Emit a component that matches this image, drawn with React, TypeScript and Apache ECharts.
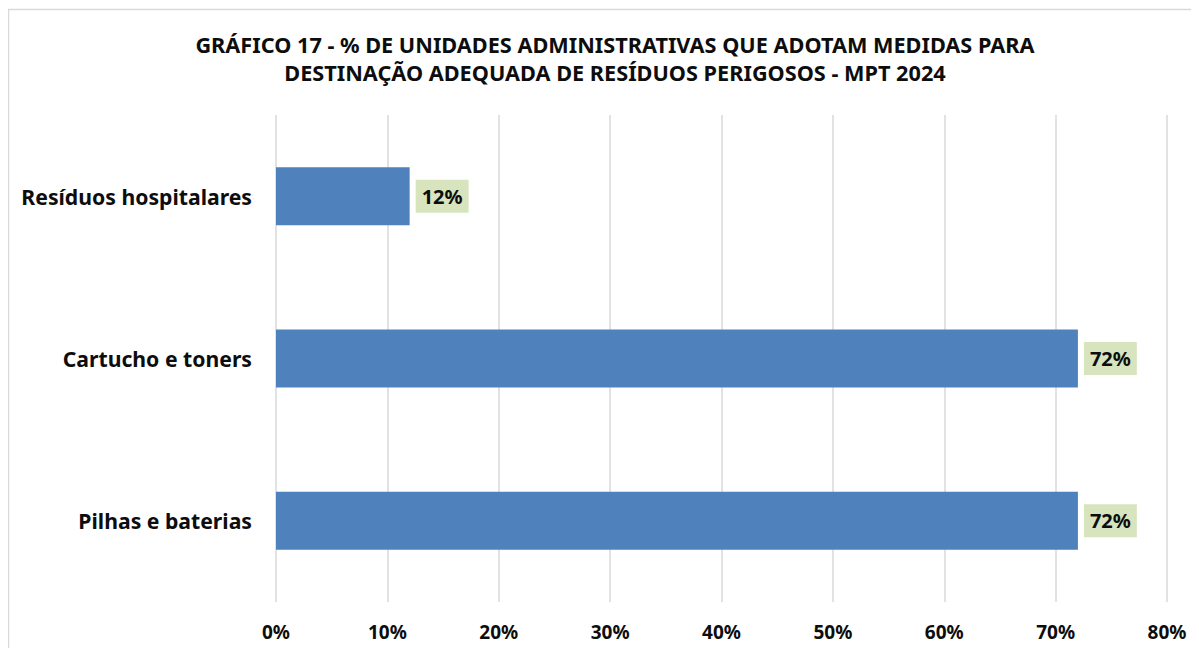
import React, { useEffect, useRef } from "react";
import * as echarts from "echarts";

const titleLines = [
  "GRÁFICO 17 - % DE UNIDADES ADMINISTRATIVAS QUE ADOTAM MEDIDAS PARA",
  "DESTINAÇÃO ADEQUADA DE RESÍDUOS PERIGOSOS - MPT 2024",
];
const categories = ["Resíduos hospitalares", "Cartucho e toners", "Pilhas e baterias"];
const values = [12, 72, 72];
const FONT = "Noto Sans";

export default function App() {
  const ref = useRef<HTMLDivElement>(null);
  useEffect(() => {
    if (!ref.current) return;
    const chart = echarts.init(ref.current, null, { renderer: "svg" });
    chart.setOption({
      animation: false,
      backgroundColor: "#ffffff",
      title: {
        text: titleLines.join("\n"),
        left: 602,
        top: 17,
        textAlign: "center",
        textStyle: {
          fontFamily: FONT,
          fontSize: 21.7,
          fontWeight: "bold",
          color: "#0d0d0d",
          lineHeight: 28,
        },
      },
      graphic: [
        {
          type: "rect",
          shape: { x: 0.5, y: 1.5, width: 1300, height: 800 },
          style: { fill: "none", stroke: "#d9d9d9", lineWidth: 1.5 },
          silent: true,
          z: -1,
        },
      ],
      grid: { left: 268, right: 32, top: 107, bottom: 46, containLabel: false },
      xAxis: {
        type: "value",
        min: 0,
        max: 80,
        interval: 10,
        axisLine: { show: false },
        axisTick: { show: false },
        splitLine: { show: true, lineStyle: { color: "#d9d9d9", width: 1.5 } },
        axisLabel: {
          formatter: "{value}%",
          fontFamily: FONT,
          fontSize: 19,
          fontWeight: "bold",
          color: "#0d0d0d",
          margin: 20,
        },
      },
      yAxis: {
        type: "category",
        data: categories,
        inverse: true,
        axisLine: { show: false },
        axisTick: { show: false },
        axisLabel: {
          fontFamily: FONT,
          fontSize: 21.2,
          fontWeight: "bold",
          color: "#0d0d0d",
          margin: 24,
        },
      },
      series: [
        {
          type: "bar",
          data: values,
          barWidth: 58,
          itemStyle: { color: "#4f81bd" },
          label: {
            show: true,
            position: "right",
            distance: 6,
            formatter: "{c}%",
            fontFamily: FONT,
            fontSize: 20,
            fontWeight: "bold",
            color: "#0d0d0d",
            backgroundColor: "#d7e4bd",
            padding: [7, 6, 6, 6],
          },
        },
      ],
    });
    return () => chart.dispose();
  }, []);
  return <div ref={ref} style={{ width: 1191, height: 640 }} />;
}
